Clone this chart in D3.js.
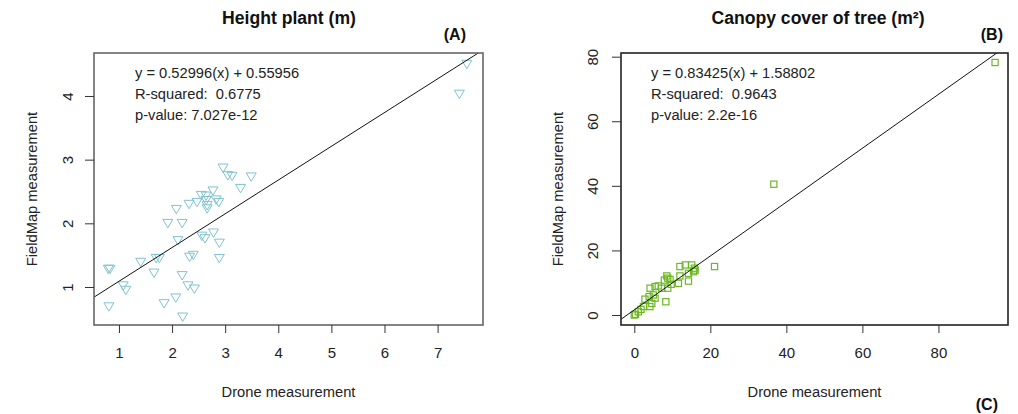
<!DOCTYPE html>
<html>
<head>
<meta charset="utf-8">
<script src="https://cdn.jsdelivr.net/npm/d3@7"></script>
<style>
  html, body { margin: 0; padding: 0; background: #fff; }
  svg { display: block; font-family: "Liberation Sans", Arial, sans-serif; }
  text { white-space: pre; }
</style>
</head>
<body>
<svg id="chart" width="1018" height="414"></svg>
<script>
// ---- Data ----
// Panel A: Height plant (m) — drone vs FieldMap
const heightDrone = [7.55, 7.41, 2.96, 3.05, 3.13, 3.49, 3.29, 2.77, 2.55, 2.64, 2.47, 2.32, 2.83, 2.88, 2.64, 2.66, 2.66, 2.08, 1.92, 2.19, 2.11, 2.56, 2.62, 2.78, 2.89, 2.89, 2.33, 2.40, 1.41, 1.70, 1.76, 1.66, 0.80, 0.83, 1.08, 1.13, 2.19, 2.30, 2.42, 2.07, 1.85, 0.81, 2.20];
const heightField = [4.50, 4.03, 2.87, 2.75, 2.74, 2.73, 2.55, 2.51, 2.44, 2.43, 2.33, 2.30, 2.37, 2.33, 2.36, 2.28, 2.23, 2.22, 2.00, 2.00, 1.73, 1.80, 1.76, 1.85, 1.69, 1.45, 1.47, 1.50, 1.39, 1.45, 1.45, 1.22, 1.28, 1.28, 1.02, 0.95, 1.18, 1.02, 0.97, 0.83, 0.74, 0.69, 0.53];
// Panel B: Canopy cover of tree (m²)
const canopyDrone = [94.9, 36.7, 21.1, 12.0, 13.4, 15.1, 16.0, 15.6, 14.25, 12.0, 11.6, 14.25, 8.55, 8.8, 7.9, 9.7, 8.8, 6.3, 5.46, 4.14, 7.2, 5.0, 3.9, 2.8, 5.46, 4.6, 4.1, 2.4, 1.77, 1.06, 0.0, 0.3, 8.3, 9.4, 15.8];
const canopyField = [78.2, 40.5, 15.0, 15.0, 15.5, 15.5, 13.9, 13.4, 12.9, 12.1, 9.8, 10.5, 12.1, 11.4, 10.8, 9.5, 8.3, 9.0, 8.8, 8.3, 8.3, 6.2, 5.7, 4.9, 5.2, 3.6, 2.6, 2.6, 1.75, 1.0, 0.0, 0.2, 4.1, 11.0, 14.5];

const heightXTicks = [1, 2, 3, 4, 5, 6, 7];
const heightYTicks = [1, 2, 3, 4];
const canopyXTicks = [0, 20, 40, 60, 80];
const canopyYTicks = [0, 20, 40, 60, 80];

const heightFit = { slope: 0.52996, intercept: 0.55956 };
const canopyFit = { slope: 0.83425, intercept: 1.58802 };
const heightStats = ["y = 0.52996(x) + 0.55956", "R-squared:  0.6775", "p-value: 7.027e-12"];
const canopyStats = ["y = 0.83425(x) + 1.58802", "R-squared:  0.9643", "p-value: 2.2e-16"];

const svg = d3.select("#chart");

function panel(cfg) {
  const x = d3.scaleLinear().domain(cfg.xDomain).range([cfg.left, cfg.right]);
  const y = d3.scaleLinear().domain(cfg.yDomain).range([cfg.bottom, cfg.top]);
  const g = svg.append("g");

  const clipId = "clip-" + cfg.id;
  svg.append("clipPath").attr("id", clipId)
    .append("rect").attr("x", cfg.left).attr("y", cfg.top)
    .attr("width", cfg.right - cfg.left).attr("height", cfg.bottom - cfg.top);

  // points
  const pts = g.append("g");
  cfg.xs.forEach((xv, i) => {
    const cx = x(xv), cy = y(cfg.ys[i]);
    if (cfg.marker === "tri") {
      const w = 5, h = 8.4;
      pts.append("path")
        .attr("d", `M${cx - w},${cy - h / 2 + 0.3}L${cx + w},${cy - h / 2 + 0.3}L${cx},${cy + h / 2 + 0.3}Z`)
        .attr("fill", "none").attr("stroke", cfg.color).attr("stroke-width", 1);
    } else {
      const s = 6.2;
      pts.append("rect").attr("x", cx - s / 2).attr("y", cy - s / 2)
        .attr("width", s).attr("height", s)
        .attr("fill", "none").attr("stroke", cfg.color).attr("stroke-width", 1.2);
    }
  });

  // regression line
  const x0 = cfg.xDomain[0], x1 = cfg.xDomain[1];
  g.append("line").attr("clip-path", `url(#${clipId})`)
    .attr("x1", x(x0)).attr("y1", y(cfg.fit.slope * x0 + cfg.fit.intercept))
    .attr("x2", x(x1)).attr("y2", y(cfg.fit.slope * x1 + cfg.fit.intercept))
    .attr("stroke", "#111").attr("stroke-width", 1);

  // box
  g.append("rect").attr("x", cfg.left).attr("y", cfg.top)
    .attr("width", cfg.right - cfg.left).attr("height", cfg.bottom - cfg.top)
    .attr("fill", "none").attr("stroke", cfg.boxColor).attr("stroke-width", 1.6);

  // x axis
  const xAxis = d3.axisBottom(x).tickValues(cfg.xTicks).tickSize(8).tickPadding(14).tickFormat(d3.format("d"));
  const gx = g.append("g").attr("transform", `translate(0,${cfg.bottom})`).call(xAxis);
  gx.select(".domain").remove();
  gx.selectAll(".tick line").attr("stroke", "#333").attr("stroke-width", 1);
  gx.selectAll(".tick text").attr("font-size", 15).attr("fill", "#222")
    .attr("font-family", "Liberation Sans, Arial, sans-serif");

  // y axis (labels rotated as in R las=0)
  const yAxis = d3.axisLeft(y).tickValues(cfg.yTicks).tickSize(9).tickFormat(d3.format("d"));
  const gy = g.append("g").attr("transform", `translate(${cfg.left},0)`).call(yAxis);
  gy.select(".domain").remove();
  gy.selectAll(".tick line").attr("stroke", "#333").attr("stroke-width", 1);
  gy.selectAll(".tick text")
    .attr("x", null).attr("dy", null)
    .attr("transform", `translate(${cfg.yLabelX - cfg.left},0) rotate(-90)`)
    .attr("text-anchor", "middle")
    .attr("font-size", 15).attr("fill", "#222")
    .attr("font-family", "Liberation Sans, Arial, sans-serif");

  // axis titles
  const midX = (cfg.left + cfg.right) / 2, midY = (cfg.top + cfg.bottom) / 2;
  g.append("text").attr("x", midX).attr("y", 397).attr("text-anchor", "middle")
    .attr("font-size", 14.7).attr("fill", "#222").text("Drone measurement");
  g.append("text").attr("transform", `translate(${cfg.yTitleX},${midY}) rotate(-90)`)
    .attr("text-anchor", "middle").attr("font-size", 14.7).attr("fill", "#222")
    .text("FieldMap measurement");

  // title
  g.append("text").attr("x", cfg.titleX).attr("y", 24).attr("text-anchor", "middle")
    .attr("font-size", 17.6).attr("font-weight", "bold").attr("fill", "#111")
    .text(cfg.title);

  // stats text
  cfg.stats.forEach((s, i) => {
    g.append("text").attr("x", cfg.statsX).attr("y", [78, 99, 120][i])
      .attr("font-size", 14.7).attr("fill", "#222").text(s);
  });
}

panel({
  id: "a", left: 94, right: 483, top: 53, bottom: 325,
  xDomain: [0.53, 7.855], yDomain: [0.403, 4.675],
  xs: heightDrone, ys: heightField, marker: "tri", color: "#7fc3cf",
  fit: heightFit, xTicks: heightXTicks, yTicks: heightYTicks,
  boxColor: "#666", yLabelX: 73, yTitleX: 37,
  title: "Height plant (m)", titleX: 289, stats: heightStats, statsX: 135
});

panel({
  id: "b", left: 621, right: 1008, top: 53, bottom: 325,
  xDomain: [-3.5, 98.3], yDomain: [-3.1, 81.14],
  xs: canopyDrone, ys: canopyField, marker: "sq", color: "#6cb822",
  fit: canopyFit, xTicks: canopyXTicks, yTicks: canopyYTicks,
  boxColor: "#222", yLabelX: 598, yTitleX: 563,
  title: "Canopy cover of tree (m²)", titleX: 818, stats: canopyStats, statsX: 651
});

// panel letters
svg.append("text").attr("x", 466).attr("y", 40).attr("text-anchor", "end")
  .attr("font-size", 16).attr("font-weight", "bold").attr("fill", "#111").text("(A)");
svg.append("text").attr("x", 1003).attr("y", 40).attr("text-anchor", "end")
  .attr("font-size", 16).attr("font-weight", "bold").attr("fill", "#111").text("(B)");
svg.append("text").attr("x", 998).attr("y", 410).attr("text-anchor", "end")
  .attr("font-size", 16).attr("font-weight", "bold").attr("fill", "#111").text("(C)");
</script>
</body>
</html>
